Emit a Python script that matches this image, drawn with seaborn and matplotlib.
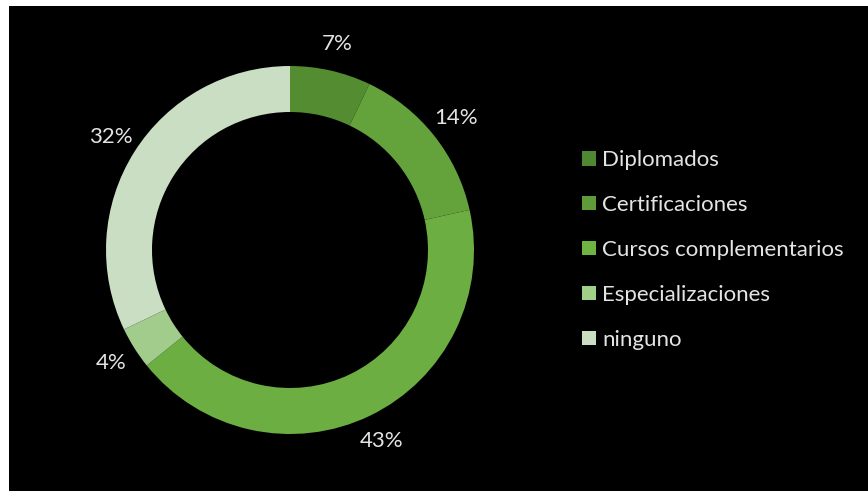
import matplotlib
matplotlib.use("Agg")
import matplotlib.pyplot as plt
from matplotlib.patches import Rectangle, Patch
import seaborn as sns

# values (percent of respondents)
categories = ["Diplomados", "Certificaciones", "Cursos complementarios",
              "Especializaciones", "ninguno"]
shares = [7.1, 14.4, 42.7, 3.7, 32.1]
colors = ["#538c31", "#64a23b", "#6dae43", "#a2cc8c", "#c9dec3"]
legend_colors = ["#4f8732", "#5f9c39", "#6db443", "#a0cf88", "#cadfc2"]

sns.set_theme(style="white")
plt.rcParams["font.family"] = ["Lato", "DejaVu Sans"]

W, H = 868, 491
fig = plt.figure(figsize=(W / 100, H / 100), dpi=100)
fig.patch.set_facecolor("black")

# thin white margin on the left and top like the source screenshot
fig.patches.append(Rectangle((0, 0), 9 / W, 1, transform=fig.transFigure,
                             facecolor="white", edgecolor="none", zorder=-1))
fig.patches.append(Rectangle((0, 1 - 6 / H), 1, 6 / H, transform=fig.transFigure,
                             facecolor="white", edgecolor="none", zorder=-1))

# donut centred at (290, 250) px, outer radius 184 px
side = 460
ax = fig.add_axes([(290 - side / 2) / W, (H - 250 - side / 2) / H, side / W, side / H])
ax.set_facecolor("none")

wedges, texts, autotexts = ax.pie(
    shares, colors=colors, startangle=90, counterclock=False,
    autopct="%.0f%%", pctdistance=1.15, radius=1,
    wedgeprops=dict(width=0.25, edgecolor="none"),
    textprops=dict(color="#e4e4e4", fontsize=16),
)
ax.set_xlim(-1.25, 1.25)
ax.set_ylim(-1.25, 1.25)
ax.set_aspect("equal")
ax.axis("off")

handles = [Patch(facecolor=c, edgecolor="none") for c in legend_colors]
leg = fig.legend(handles, categories, loc="center left",
                 bbox_to_anchor=(582 / W, 1 - 250 / H), frameon=False,
                 fontsize=16, labelcolor="#e4e4e4", handlelength=0.62,
                 handleheight=0.62, handletextpad=0.3, labelspacing=1.12,
                 borderaxespad=0, borderpad=0)

fig.savefig("out.png", dpi=100, facecolor=fig.get_facecolor())
